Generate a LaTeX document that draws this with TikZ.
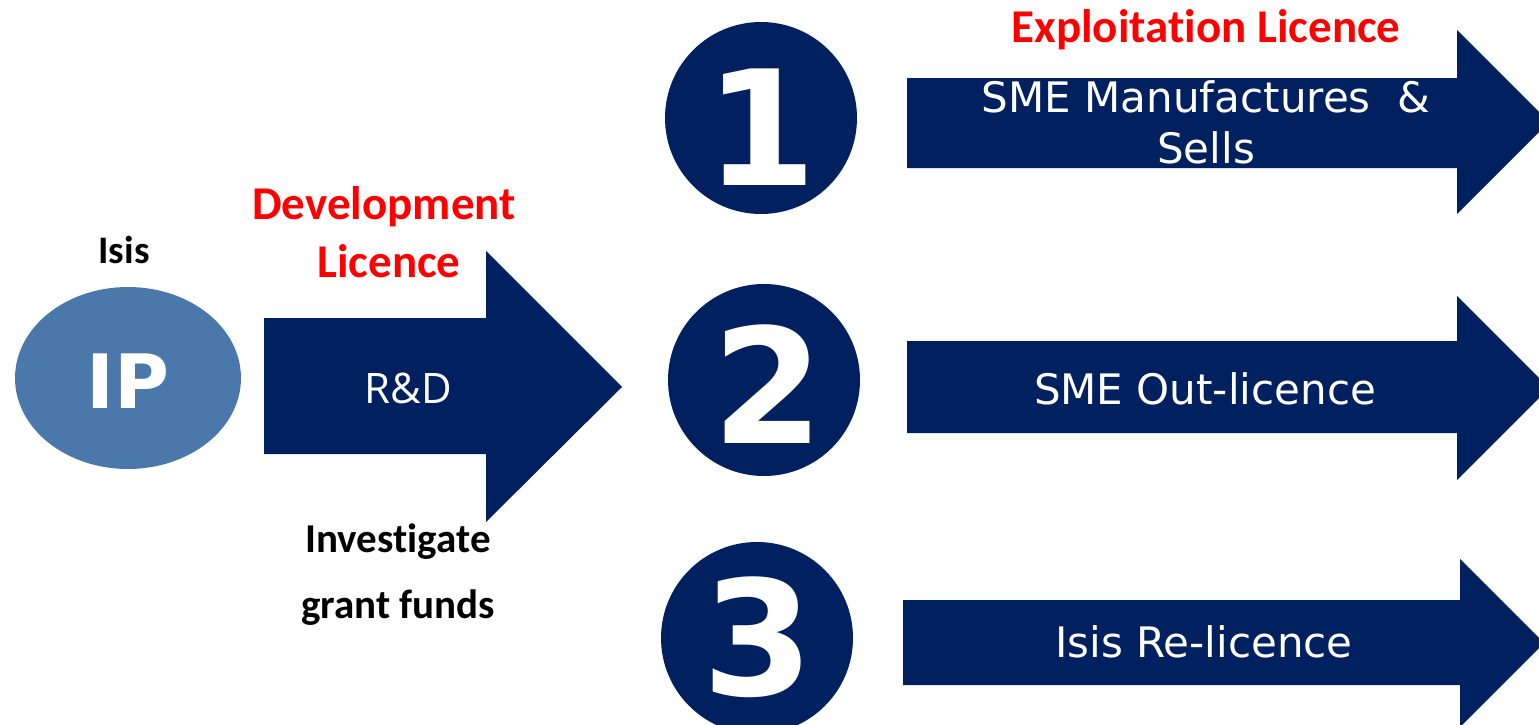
\documentclass[tikz,border=0pt]{standalone}
\usepackage{fontspec}
\setmainfont{DejaVu Sans}
\newfontfamily\carl{Carlito}[Ligatures={NoCommon}]
\newfontfamily\osans{Open Sans}
\usetikzlibrary{shapes.geometric}
\definecolor{navy}{HTML}{002060}
\definecolor{ipblue}{HTML}{4A78AB}
\definecolor{lred}{HTML}{FF0000}
\begin{document}
\begin{tikzpicture}[x=1pt,y=-1pt,
  redlab/.style={text=lred,font=\carl\bfseries\fontsize{47}{56}\selectfont,inner sep=0pt,anchor=base},
  blacklab/.style={text=black,font=\carl\bfseries\fontsize{41}{48}\selectfont,inner sep=0pt,anchor=base},
  arrowtxt/.style={text=white,font=\fontsize{42}{50}\selectfont,inner sep=0pt,anchor=base},
  numcirc/.style={circle,fill=navy,minimum size=192pt,inner sep=0pt},
  digit/.style={text=white,font=\bfseries\fontsize{160}{160}\selectfont,inner sep=0pt,anchor=base},
  arrowfill/.style={fill=navy}
]
\useasboundingbox (0,0) rectangle (1539,725);
\clip (0,0) rectangle (1539,725);
% IP ellipse
\node[ellipse,fill=ipblue,minimum width=226pt,minimum height=182pt,inner sep=0pt] (ip) at (128,378) {};
\node[text=white,font=\bfseries\fontsize{75}{75}\selectfont,inner sep=0pt,anchor=base] (iptxt) at (128,408) {IP};
\node[blacklab,font=\carl\bfseries\fontsize{39}{46}\selectfont] (isis) at (124,263) {Isis};
% R&D arrow
\fill[arrowfill] (264,318) -- (486,318) -- (486,251) -- (622,387) -- (486,522) -- (486,454) -- (264,454) -- cycle;
\node[arrowtxt,font=\osans\fontsize{42}{50}\selectfont] (rd) at (408,403) {R\&D};
\node[redlab] (dev1) at (384,219) {Development};
\node[redlab] (dev2) at (389,277) {Licence};
\node[blacklab] (inv1) at (398,552) {Investigate};
\node[blacklab] (inv2) at (398,618) {grant funds};
% numbered circles
\node[numcirc] (c1) at (761,118) {};
\node[digit] (d1) at (761,185) {1};
\node[numcirc] (c2) at (764,380) {};
\node[digit] (d2) at (768,443) {2};
\node[numcirc] (c3) at (757,638) {};
\node[digit] (d3) at (758,695) {3};
% right arrows
\fill[arrowfill] (907,78) -- (1457,78) -- (1457,30) -- (1549,122) -- (1457,214) -- (1457,168) -- (907,168) -- cycle;
\fill[arrowfill] (907,341) -- (1457,341) -- (1457,296) -- (1549,388) -- (1457,480) -- (1457,433) -- (907,433) -- cycle;
\fill[arrowfill] (903,600) -- (1460,600) -- (1460,559) -- (1544,643) -- (1460,727) -- (1460,685) -- (903,685) -- cycle;
\node[redlab] (expl) at (1206,43) {Exploitation Licence};
\node[arrowtxt] (a1a) at (1206,112) {SME Manufactures\ \ \&};
\node[arrowtxt] (a1b) at (1206,163) {Sells};
\node[arrowtxt] (a2) at (1205,404) {SME Out-licence};
\node[arrowtxt] (a3) at (1204,657) {Isis Re-licence};
\end{tikzpicture}
\end{document}
